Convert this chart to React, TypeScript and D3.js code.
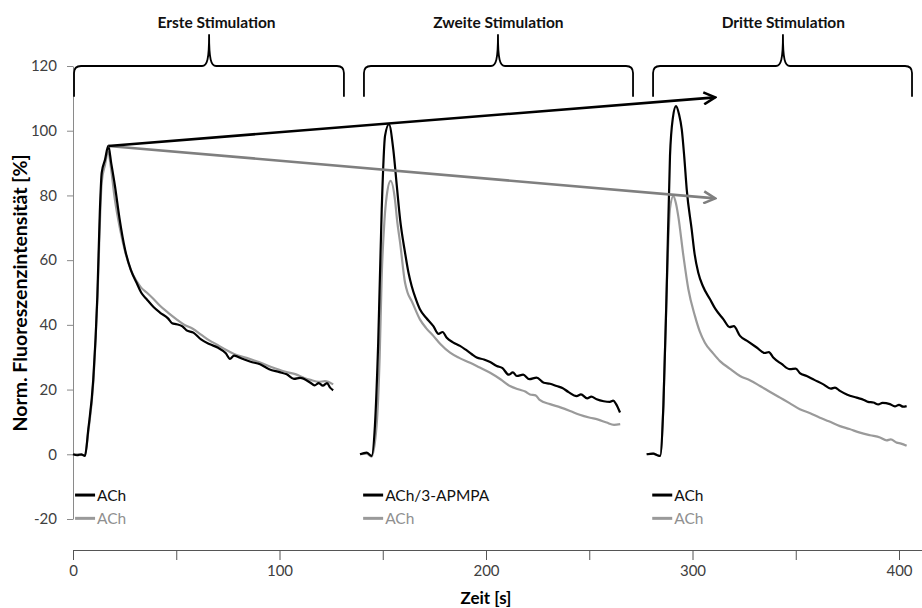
import React, { useEffect, useRef } from "react";
import * as d3 from "d3";

// Messwerte je Stimulation: [Zeit s, Norm. Fluoreszenz %]
const stim1Black = [[0,0],[2,-0.3],[4,0],[5.8,-0.5],[7.4,7.7],[9.8,23],[11.8,49],[13,75],[13.9,87],[15.5,91],[17.1,95.3],[18.5,90],[20.3,83],[22.5,73],[25.2,63.3],[28,57],[30.8,53],[33,50],[35.7,47.9],[39,45.5],[42.1,43.8],[46,42],[48,40.5],[50.2,40.2],[53,39.5],[55,38.3],[58.3,37.6],[62,35.5],[66.3,34],[70,33],[74,31.2],[76,29.5],[78,30.5],[82,29.5],[86,28.6],[90.6,27.8],[95,26.3],[100,25.4],[103.5,24.7],[107,23.3],[110,23.6],[114.8,22.2],[117,21.3],[119,22],[121,21.2],[123,22],[124.5,20.6],[126,19.8]];
const stim1Gray = [[0,0],[2,0],[4,-0.2],[5.8,-0.3],[7.4,7],[9.8,22],[11.8,48],[13.9,84],[15.5,89.5],[17,93.5],[18.5,88],[20,80],[22.8,69.5],[25.5,62],[28,57],[30.8,53.5],[33,51.5],[35.7,50],[39,48],[42,46],[46,43.8],[50,41.8],[54,40],[58,38.8],[62,37],[66,35.2],[70,33.8],[74,32.3],[78,31],[84,29.8],[90,28.5],[96,27],[103,25.5],[108,24.7],[112,23.6],[115,23],[119,22.4],[122,22.6],[126,21.6]];
const stim2Black = [[139,0],[142.2,0.5],[144.6,-0.5],[146.2,8.7],[147.8,34.5],[149.5,75.7],[151.1,98.4],[153,102],[155.1,94.2],[156.8,83],[158.4,72.6],[160.8,62.3],[162.5,56],[164,52],[166,48],[168,44.8],[171,42.2],[174.5,39.6],[177,37.2],[179,37.8],[181,36],[184,34.6],[187.4,33.5],[190,32.4],[193,31],[195.5,29.9],[199,29.3],[202,28.5],[205.2,27.3],[208,26.6],[211,24.6],[213,25.3],[214.9,24.2],[218,24.6],[221,23.2],[224.5,23.7],[228,22.1],[231,21.8],[234.2,21.1],[237,20.5],[240,19.2],[243.9,18],[246,18.5],[249,17.3],[251,17.8],[253.6,17],[257,16.4],[260,16.2],[261.6,16.6],[263,15.5],[264.9,12.9]];
const stim2Gray = [[139,0],[142.2,0.2],[144.6,-0.7],[147,8.7],[148.5,30],[149.5,55],[150.8,72],[151.9,79.8],[153.8,84.5],[155.9,78.8],[157,72],[158.4,65.4],[160.8,53],[162,50],[164,47.4],[168,41.7],[171,39],[174.5,36.6],[178,34],[182.6,31.4],[187,29.8],[192.3,28.3],[197,26.8],[202,25.2],[207,23.2],[211.6,21.1],[216,20],[219,19.4],[221.3,18.5],[224,18.2],[226,16.8],[231,15.5],[236,14.5],[240.7,13.4],[245,12.3],[250.4,11.3],[254,10.8],[258.4,9.8],[262,9.1],[265,9.3]];
const stim3Black = [[277.8,0],[281,0.2],[283,-0.3],[284.3,-0.5],[285.9,15],[287.5,51],[289.1,92.2],[290.5,104],[292,107.6],[293.5,105],[294.8,100.4],[296,92],[297.2,81.9],[299.6,69.5],[301,62],[302.8,56.1],[305,52],[308.5,47.9],[311,45],[315,41.7],[318,39.3],[320,39.6],[323,36.6],[327,34.8],[331.1,33],[335,31.3],[337,31.6],[339.1,29.9],[343,28],[347.2,26.3],[350,26.5],[352,25.1],[355.3,24.2],[359,23],[363.4,21.6],[367,20.3],[369,20.6],[371.4,19.6],[375,18.4],[379.5,17.5],[383,16.8],[385,16.2],[387.6,16],[390,15.4],[392,15.9],[395.6,15.5],[398,14.8],[400,15.3],[402,14.7],[403.7,14.9]];
const stim3Gray = [[277.8,0],[281,0.2],[283,-0.3],[284.3,-0.5],[285.9,15],[287.5,51],[289.1,76],[290.7,79.8],[292,77.5],[293.1,73.6],[295.6,61.3],[298,51],[301.2,42.7],[303.5,38],[306,34.5],[310,31.2],[313.3,28.8],[318,26.5],[323,24.2],[328,22.8],[332.7,21.1],[337,19.5],[342.4,17.5],[347,15.8],[352,13.9],[357,12.7],[361.7,11.3],[366,10.2],[371.4,8.7],[376,7.8],[381.1,6.7],[386,5.9],[390.8,5.2],[394,4.3],[396,4.6],[398.9,3.6],[401,3.3],[403.7,2.6]];

const stimTitles = ["Erste Stimulation", "Zweite Stimulation", "Dritte Stimulation"];
const titleX = [69.5, 206, 344];
// geschweifte Klammern: [start, ende, spitze]
const braces = [[0.5, 131.2, 65.9], [140.9, 271.2, 205.8], [280.9, 406.3, 343.8]];
const legendBlack = ["ACh", "ACh/3-APMPA", "ACh"];
const legendGray = ["ACh", "ACh", "ACh"];
const legendX = [1, 140.5, 280.5];
// Pfeile vom ersten Peak
const arrowStart = [17.1, 95.3];
const arrowBlackEnd = [311, 110.3];
const arrowGrayEnd = [311, 79.1];

const xTicks = [0, 50, 100, 150, 200, 250, 300, 350, 400];
const yTicks = [-20, 0, 20, 40, 60, 80, 100, 120];

const W = 922, H = 608;
const BLACK = "#000000";
const GRAY = "#9a9a9a";
const ARROW_GRAY = "#7f7f7f";
const FONT = "Lato, 'Open Sans', sans-serif";

const App = () => {
  const ref = useRef<SVGGElement>(null);

  useEffect(() => {
    const g = d3.select(ref.current);
    g.selectAll("*").remove();

    const x = d3.scaleLinear().domain([0, 412]).range([73, 73 + 412 * 2.065]);
    const y = d3.scaleLinear().domain([-20, 120]).range([519, 66]);

    const defs = g.append("defs");
    [["arrBlack", BLACK], ["arrGray", ARROW_GRAY]].forEach(([id, c]) => {
      defs.append("marker")
        .attr("id", id)
        .attr("markerUnits", "userSpaceOnUse")
        .attr("viewBox", "0 0 14 14")
        .attr("refX", 12.5).attr("refY", 7)
        .attr("markerWidth", 14).attr("markerHeight", 14)
        .attr("orient", "auto")
        .append("path")
        .attr("d", "M1,1 L12.5,7 L1,13")
        .attr("fill", "none")
        .attr("stroke", c)
        .attr("stroke-width", 2.6)
        .attr("stroke-linejoin", "miter");
    });

    // y axis
    const yAxis = g.append("g")
      .attr("transform", `translate(${x(0)},0)`)
      .call(d3.axisLeft(y).tickValues(yTicks).tickSize(6).tickSizeOuter(0).tickPadding(10)
        .tickFormat((d: any) => String(d)));
    yAxis.select(".domain").attr("stroke", "#8a8a8a");
    yAxis.selectAll(".tick line").attr("stroke", "#8a8a8a");
    yAxis.selectAll(".tick text").attr("font-family", FONT).attr("font-size", 15).attr("fill", "#404040");

    // x axis
    const xAxis = g.append("g")
      .attr("transform", "translate(0,550)")
      .call(d3.axisBottom(x).tickValues(xTicks).tickSize(10).tickSizeOuter(0).tickPadding(5)
        .tickFormat((d: any) => (d % 100 === 0 ? String(d) : "")));
    xAxis.select(".domain").attr("stroke", "#555");
    xAxis.selectAll(".tick line").attr("stroke", "#555");
    xAxis.selectAll(".tick text").attr("font-family", FONT).attr("font-size", 15).attr("fill", "#404040");

    // curves
    const line = d3.line<number[]>().x(d => x(d[0])).y(d => y(d[1])).curve(d3.curveMonotoneX);
    [stim1Gray, stim2Gray, stim3Gray].forEach(s => {
      g.append("path").attr("d", line(s)).attr("fill", "none").attr("stroke", GRAY).attr("stroke-width", 2.2).attr("stroke-linejoin", "round");
    });
    [stim1Black, stim2Black, stim3Black].forEach(s => {
      g.append("path").attr("d", line(s)).attr("fill", "none").attr("stroke", BLACK).attr("stroke-width", 2.2).attr("stroke-linejoin", "round");
    });

    // arrows
    g.append("line")
      .attr("x1", x(arrowStart[0])).attr("y1", y(arrowStart[1]))
      .attr("x2", x(arrowGrayEnd[0])).attr("y2", y(arrowGrayEnd[1]))
      .attr("stroke", ARROW_GRAY).attr("stroke-width", 2.6).attr("marker-end", "url(#arrGray)");
    g.append("line")
      .attr("x1", x(arrowStart[0])).attr("y1", y(arrowStart[1]))
      .attr("x2", x(arrowBlackEnd[0])).attr("y2", y(arrowBlackEnd[1]))
      .attr("stroke", BLACK).attr("stroke-width", 2.6).attr("marker-end", "url(#arrBlack)");

    // braces
    const top = y(120), end = y(110.5), peak = y(129.8), r = 7;
    braces.forEach(([a, b, m]) => {
      const X0 = x(a), X1 = x(b), XM = x(m);
      const d = `M${X0},${end} L${X0},${top + r} Q${X0},${top} ${X0 + r},${top} L${XM - 7},${top} ` +
        `C${XM - 2},${top} ${XM},${top - 6} ${XM},${peak} C${XM},${top - 6} ${XM + 2},${top} ${XM + 7},${top} ` +
        `L${X1 - r},${top} Q${X1},${top} ${X1},${top + r} L${X1},${end}`;
      g.append("path").attr("d", d).attr("fill", "none").attr("stroke", BLACK).attr("stroke-width", 1.8);
    });

    stimTitles.forEach((t, i) => {
      g.append("text").attr("x", x(titleX[i])).attr("y", 28).attr("text-anchor", "middle")
        .attr("font-family", FONT).attr("font-weight", "bold").attr("font-size", 15.5).attr("fill", "#111").text(t);
    });

    // legends
    const rows = [{ v: -12.6, c: BLACK, labels: legendBlack, tc: "#111" }, { v: -19.8, c: GRAY, labels: legendGray, tc: "#909090" }];
    legendX.forEach((lx, i) => {
      rows.forEach(row => {
        const px = x(lx), py = y(row.v);
        g.append("line").attr("x1", px).attr("x2", px + 20).attr("y1", py).attr("y2", py)
          .attr("stroke", row.c).attr("stroke-width", 3);
        g.append("text").attr("x", px + 22).attr("y", py + 5.5).attr("font-family", FONT).attr("font-size", 15.5)
          .attr("fill", row.tc).text(row.labels[i]);
      });
    });

    // axis titles
    g.append("text").attr("transform", "translate(27,293) rotate(-90)")
      .attr("text-anchor", "middle").attr("font-family", FONT).attr("font-weight", "bold").attr("font-size", 19.5)
      .attr("fill", "#000").text("Norm. Fluoreszenzintensität [%]");
    g.append("text").attr("x", x(200)).attr("y", 604).attr("text-anchor", "middle")
      .attr("font-family", FONT).attr("font-weight", "bold").attr("font-size", 17).attr("fill", "#000").text("Zeit [s]");
  }, []);

  return (
    <svg width={W} height={H} style={{ position: "absolute", left: 0, top: 0, background: "#fff" }}>
      <g ref={ref} />
    </svg>
  );
};

export default App;
